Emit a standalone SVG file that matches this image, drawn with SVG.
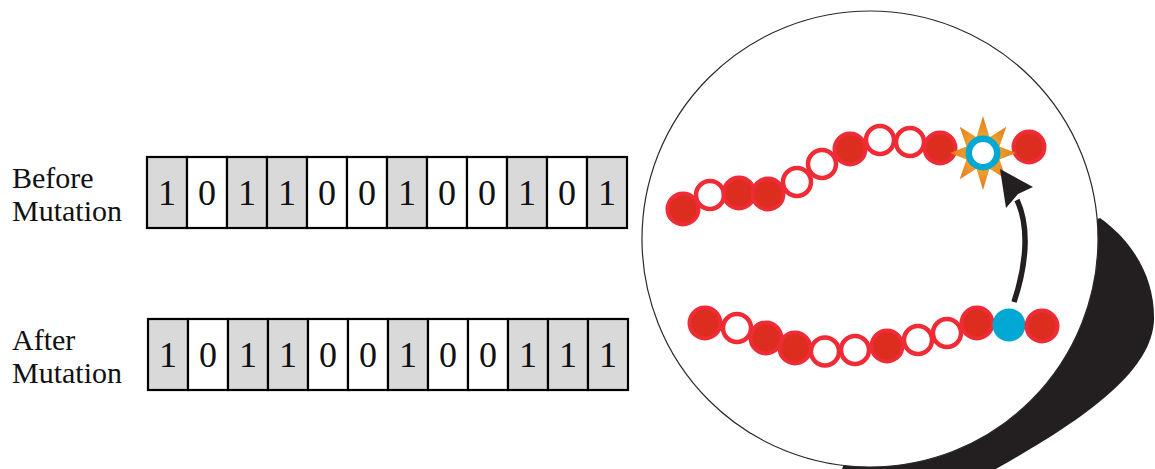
<svg xmlns="http://www.w3.org/2000/svg" width="1155" height="469" viewBox="0 0 1155 469">
  <defs>
    <style>
      .label { font-family: "Liberation Serif", "Times New Roman", serif; font-size: 30px; fill: #111; }
      .bit { font-family: "Liberation Serif", "Times New Roman", serif; font-size: 36px; fill: #111; text-anchor: middle; }
      .cell { stroke: #000; stroke-width: 2.2; }
      .one { fill: #d9d9d9; }
      .zero { fill: #fff; }
      .full { fill: #dc2d1f; stroke: #ef2b36; stroke-width: 4; }
      .hollow { fill: #fff; stroke: #ef2b36; stroke-width: 4.5; }
      .ink { fill: #231f20; }
    </style>
    <radialGradient id="burst" cx="0.5" cy="0.5" r="0.5">
      <stop offset="0" stop-color="#fbc23a"/>
      <stop offset="1" stop-color="#e27a1d"/>
    </radialGradient>
  </defs>

  <!-- Labels -->
  <g id="label-before">
    <text class="label" x="12" y="188">Before</text>
    <text class="label" x="12" y="221">Mutation</text>
  </g>
  <g id="label-after">
    <text class="label" x="12" y="350">After</text>
    <text class="label" x="12" y="383">Mutation</text>
  </g>

  <!-- Bit string before mutation: 101100100101 -->
  <g id="row-before">
    <g class="cell">
      <rect class="one" x="147" y="157" width="40" height="71"/>
      <rect class="zero" x="187" y="157" width="40" height="71"/>
      <rect class="one" x="227" y="157" width="40" height="71"/>
      <rect class="one" x="267" y="157" width="40" height="71"/>
      <rect class="zero" x="307" y="157" width="40" height="71"/>
      <rect class="zero" x="347" y="157" width="40" height="71"/>
      <rect class="one" x="387" y="157" width="40" height="71"/>
      <rect class="zero" x="427" y="157" width="40" height="71"/>
      <rect class="zero" x="467" y="157" width="40" height="71"/>
      <rect class="one" x="507" y="157" width="40" height="71"/>
      <rect class="zero" x="547" y="157" width="40" height="71"/>
      <rect class="one" x="587" y="157" width="40" height="71"/>
    </g>
    <text class="bit" x="167" y="205">1</text>
    <text class="bit" x="207" y="205">0</text>
    <text class="bit" x="247" y="205">1</text>
    <text class="bit" x="287" y="205">1</text>
    <text class="bit" x="327" y="205">0</text>
    <text class="bit" x="367" y="205">0</text>
    <text class="bit" x="407" y="205">1</text>
    <text class="bit" x="447" y="205">0</text>
    <text class="bit" x="487" y="205">0</text>
    <text class="bit" x="527" y="205">1</text>
    <text class="bit" x="567" y="205">0</text>
    <text class="bit" x="607" y="205">1</text>
  </g>

  <!-- Bit string after mutation: 101100100111 -->
  <g id="row-after">
    <g class="cell">
      <rect class="one" x="148" y="319" width="40" height="71"/>
      <rect class="zero" x="188" y="319" width="40" height="71"/>
      <rect class="one" x="228" y="319" width="40" height="71"/>
      <rect class="one" x="268" y="319" width="40" height="71"/>
      <rect class="zero" x="308" y="319" width="40" height="71"/>
      <rect class="zero" x="348" y="319" width="40" height="71"/>
      <rect class="one" x="388" y="319" width="40" height="71"/>
      <rect class="zero" x="428" y="319" width="40" height="71"/>
      <rect class="zero" x="468" y="319" width="40" height="71"/>
      <rect class="one" x="508" y="319" width="40" height="71"/>
      <rect class="one" x="548" y="319" width="40" height="71"/>
      <rect class="one" x="588" y="319" width="40" height="71"/>
    </g>
    <text class="bit" x="168" y="367">1</text>
    <text class="bit" x="208" y="367">0</text>
    <text class="bit" x="248" y="367">1</text>
    <text class="bit" x="288" y="367">1</text>
    <text class="bit" x="328" y="367">0</text>
    <text class="bit" x="368" y="367">0</text>
    <text class="bit" x="408" y="367">1</text>
    <text class="bit" x="448" y="367">0</text>
    <text class="bit" x="488" y="367">0</text>
    <text class="bit" x="528" y="367">1</text>
    <text class="bit" x="568" y="367">1</text>
    <text class="bit" x="608" y="367">1</text>
  </g>

  <!-- Magnified view: drop shadow, then the lens disc -->
  <g id="lens">
    <path class="ink" d="M1100,218 C1135,243 1155,280 1154,320 C1152,375 1075,425 985,475 L840,475 L900,300 Z"/>
    <circle cx="870" cy="239" r="228" fill="#fff" stroke="#2b2b2b" stroke-width="1.2"/>
  </g>

  <!-- Upper chromosome -->
  <g id="chain-before">
    <circle class="full" cx="683" cy="209" r="15.5"/>
    <circle class="hollow" cx="710" cy="195" r="14"/>
    <circle class="full" cx="739" cy="193" r="15.5"/>
    <circle class="full" cx="768" cy="194" r="15.5"/>
    <circle class="hollow" cx="797" cy="182" r="14"/>
    <circle class="hollow" cx="822" cy="164" r="14"/>
    <circle class="full" cx="850" cy="149" r="15.5"/>
    <circle class="hollow" cx="880" cy="140" r="14"/>
    <circle class="hollow" cx="910" cy="142" r="14"/>
    <circle class="full" cx="940" cy="148" r="15.5"/>
    <circle class="full" cx="1029" cy="147" r="15.5"/>
  </g>

  <!-- Mutated gene marker -->
  <g id="mutation-site">
    <polygon fill="url(#burst)" points="983,116 989.5,137.3 1006.3,126.7 999.5,146.6 1016,153 999.5,159.4 1006.3,179.3 989.5,168.7 983,190 976.5,168.7 959.7,179.3 966.5,159.4 950,153 966.5,146.6 959.7,126.7 976.5,137.3"/>
    <circle cx="983" cy="153" r="14.2" fill="#fff" stroke="#00a8d3" stroke-width="6.5"/>
  </g>

  <!-- Lower chromosome -->
  <g id="chain-after">
    <circle class="full" cx="705" cy="323" r="15.5"/>
    <circle class="hollow" cx="737" cy="328" r="14"/>
    <circle class="full" cx="766" cy="338" r="15.5"/>
    <circle class="full" cx="795" cy="348" r="15.5"/>
    <circle class="hollow" cx="825" cy="351.5" r="14"/>
    <circle class="hollow" cx="855" cy="350" r="14"/>
    <circle class="full" cx="887" cy="346" r="15.5"/>
    <circle class="hollow" cx="918" cy="340" r="14"/>
    <circle class="hollow" cx="947" cy="333" r="14"/>
    <circle class="full" cx="977" cy="323" r="15.5"/>
    <circle cx="1009" cy="325" r="16.5" fill="#00a8d3"/>
    <circle class="full" cx="1042" cy="326" r="15.5"/>
  </g>

  <!-- Connector: gene copied upward -->
  <g id="connectors">
    <path d="M1014,302 C1026,266 1030,228 1017,200" fill="none" stroke="#231f20" stroke-width="5.5"/>
    <path class="ink" d="M1000,169 L1033,187 L1018,194 L1006,208 Z"/>
  </g>
</svg>
